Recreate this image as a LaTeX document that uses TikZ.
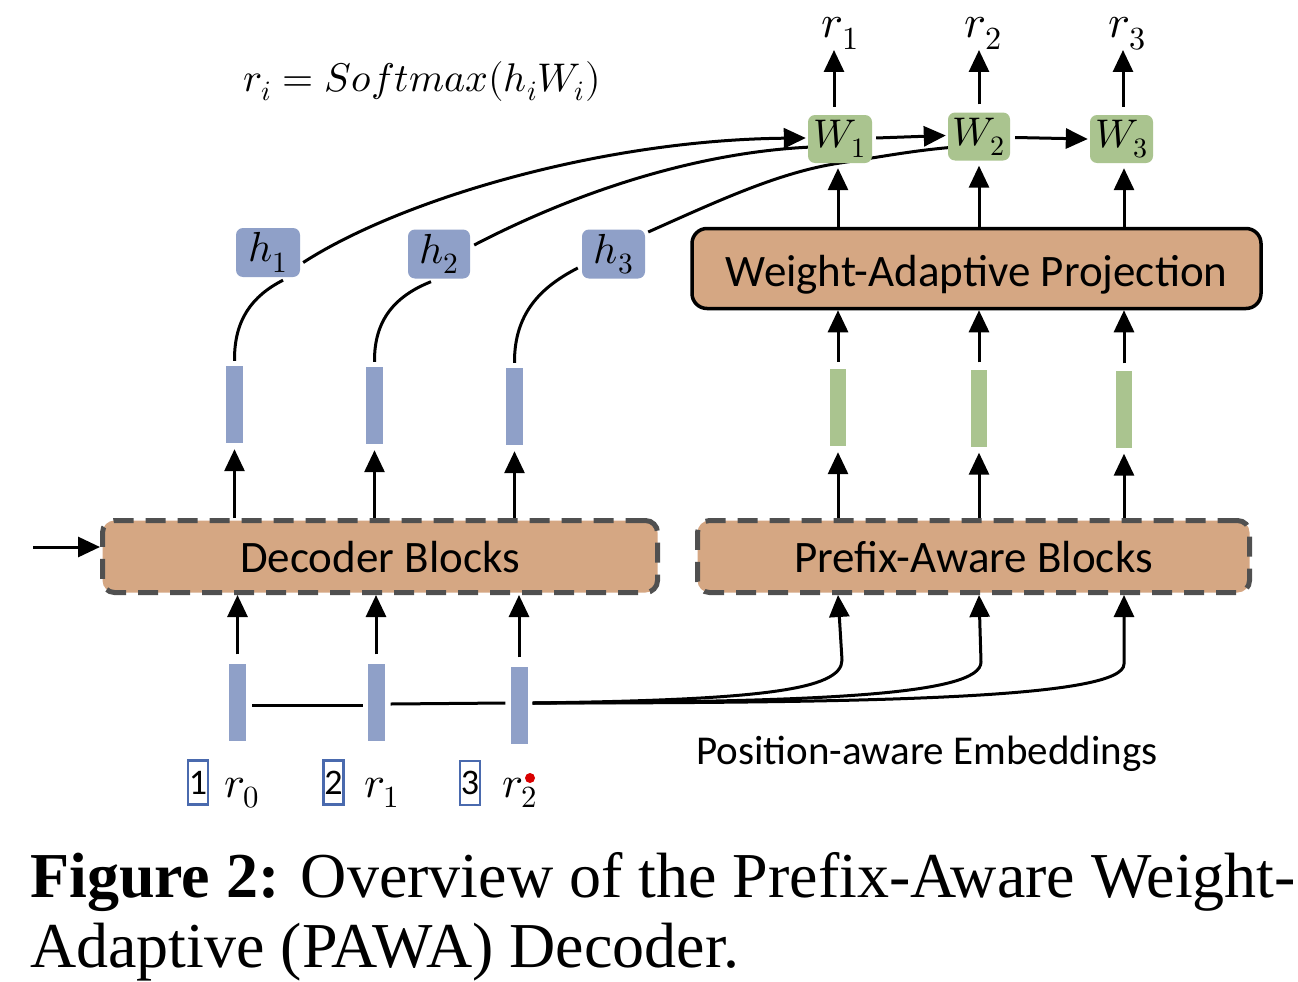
\documentclass[tikz,border=0pt]{standalone}
\usepackage{fontspec}
\usepackage{unicode-math}
\setmainfont{Carlito}
\setmathfont{Latin Modern Math}
\newfontfamily\capfont{Liberation Serif}
\usetikzlibrary{arrows.meta,backgrounds}
\definecolor{tanfill}{RGB}{213,167,131}
\definecolor{barblue}{RGB}{143,160,200}
\definecolor{bargreen}{RGB}{170,196,143}
\definecolor{numblue}{RGB}{74,106,174}
\definecolor{dashgray}{RGB}{80,80,80}
\tikzset{
  arr/.style={line width=3pt,-{Triangle[length=22pt,width=20pt]}},
  conn/.style={line width=3pt},
  dashbox/.style={draw=dashgray,line width=5pt,dash pattern=on 20pt off 12pt,fill=tanfill,rounded corners=12pt,inner sep=0pt},
  solidbox/.style={draw=black,line width=3.5pt,fill=tanfill,rounded corners=15pt,inner sep=0pt},
  hbox/.style={fill=barblue,rounded corners=7pt,minimum width=64pt,minimum height=49pt,inner sep=0pt,font=\fontsize{42}{46}\selectfont},
  wbox/.style={fill=bargreen,rounded corners=7pt,minimum width=64pt,minimum height=48pt,inner sep=0pt,font=\fontsize{40}{44}\selectfont},
  bbar/.style={fill=barblue,minimum width=17pt,minimum height=77pt,inner sep=0pt},
  gbar/.style={fill=bargreen,minimum width=16pt,minimum height=77pt,inner sep=0pt},
  numbox/.style={draw=numblue,line width=2.5pt,minimum width=20pt,minimum height=44pt,inner sep=0pt,font=\fontsize{36}{40}\selectfont},
  lbl/.style={anchor=base,inner sep=0pt,font=\fontsize{45}{50}\selectfont},
  mlbl/.style={anchor=base,inner sep=0pt,font=\fontsize{44}{48}\selectfont},
  toplbl/.style={anchor=base,inner sep=0pt,font=\fontsize{46}{52}\selectfont},
}
\begin{document}
\begin{tikzpicture}[x=1pt,y=-1pt]
\useasboundingbox (0,0) rectangle (1298,982);

% main boxes
\node[dashbox,minimum width=555pt,minimum height=72pt] (dec) at (380,556.5) {};
\node[dashbox,minimum width=552pt,minimum height=72pt] (pab) at (973.5,556.5) {};
\node[solidbox,minimum width=569pt,minimum height=80pt] (wap) at (976.5,268.5) {};
\node[lbl] (dect) at (380,572) {Decoder Blocks};
\node[lbl] (pabt) at (973.5,572) {Prefix-Aware Blocks};
\node[lbl] (wapt) at (976.5,286) {Weight-Adaptive Projection};

% input bars
\node[bbar] (b0) at (237.5,702) {};
\node[bbar] (b1) at (376,702) {};
\node[bbar] (b2) at (519,705) {};
% decoder output bars
\node[bbar] (o1) at (234.5,404.5) {};
\node[bbar] (o2) at (374.5,405.5) {};
\node[bbar] (o3) at (514.5,406.5) {};
% green bars
\node[gbar] (g1) at (838,407.5) {};
\node[gbar] (g2) at (979,408) {};
\node[gbar] (g3) at (1124,409) {};

% h boxes
\node[hbox] (h1) at (268,252.5) {$h_1$};
\node[hbox,minimum width=62pt] (h2) at (439,254) {$h_2$};
\node[hbox,minimum width=63pt] (h3) at (613.5,254) {$h_3$};

% W boxes
\node[wbox] (w1) at (840,139) {$W_1$};
\node[wbox,minimum width=62pt] (w2) at (979,136.5) {$W_2$};
\node[wbox,minimum width=63pt] (w3) at (1121.5,139) {$W_3$};

% top labels
\node[toplbl] (r1t) at (840,38) {$r_1$};
\node[toplbl] (r2t) at (983,38) {$r_2$};
\node[toplbl] (r3t) at (1127,38) {$r_3$};

% formula
\node[anchor=base,inner sep=0pt,font=\fontsize{40}{44}\selectfont] (form) at (422,91) {$r_i = Softmax(h_iW_i)$};

% bottom labels
\node[numbox] (n1) at (198,782.5) {1};
\node[numbox] (n2) at (333.5,782.5) {2};
\node[numbox] (n3) at (470,783) {3};
\node[mlbl] (r0b) at (242,797) {$r_0$};
\node[mlbl] (r1b) at (382,797) {$r_1$};
\node[mlbl] (r2b) at (520,797) {$r_2$};
\fill[red!85!black] (530,778) circle (5pt);

\node[anchor=base,inner sep=0pt,font=\fontsize{41}{46}\selectfont] (pae) at (927,764) {Position-aware Embeddings};

% caption
\node[anchor=base west,inner sep=0pt,font=\capfont\fontsize{64}{70}\selectfont] (cap1) at (30,897) {\textbf{Figure 2:} Overview of the Prefix-Aware Weight-};
\node[anchor=base west,inner sep=0pt,font=\capfont\fontsize{64}{70}\selectfont] (cap2) at (30,967) {Adaptive (PAWA) Decoder.};

% straight arrows
\coordinate (inp) at (33,547);
\draw[arr] (inp) -- (inp -| dec.west);
\foreach \b in {b0,b1,b2}{
  \draw[arr] ([yshift=9pt]\b.north) -- (\b.north |- dec.south);
}
\foreach \o in {o1,o2,o3}{
  \draw[arr] (\o.south |- dec.north) -- ([yshift=-6pt]\o.south);
}
\foreach \g in {g1,g2,g3}{
  \draw[arr] (\g.south |- pab.north) -- ([yshift=-6pt]\g.south);
  \draw[arr] ([yshift=7pt]\g.north) -- (\g.north |- wap.south);
}
\draw[arr] ([xshift=-2pt]w1.south |- wap.north) -- ([xshift=-2pt,yshift=-5pt]w1.south);
\draw[arr] (w2.south |- wap.north) -- ([yshift=-5pt]w2.south);
\draw[arr] ([xshift=2.5pt]w3.south |- wap.north) -- ([xshift=2.5pt,yshift=-5pt]w3.south);
\draw[arr] ([xshift=-6pt,yshift=8pt]w1.north) -- ([xshift=-6pt]w1.north |- 0,50);
\draw[arr] ([yshift=8pt]w2.north) -- (w2.north |- 0,50);
\draw[arr] ([xshift=1.5pt,yshift=8pt]w3.north) -- ([xshift=1.5pt]w3.north |- 0,50);
\draw[arr] ([xshift=4pt,yshift=1pt]w1.east) -- ([xshift=-2pt,yshift=1pt]w2.west);
\draw[arr] ([xshift=5pt,yshift=-1pt]w2.east) -- ([xshift=-2pt]w3.west);

% embedding chain
\draw[conn] ([xshift=6pt]b0.east |- 0,705) -- ([xshift=-4pt]b1.west |- 0,705);
\draw[conn] ([xshift=6pt]b1.east |- 0,704) -- ([xshift=-5pt]b2.west |- 0,703);
\coordinate (bs) at ([xshift=5pt]b2.east |- 0,703);
\draw[arr] (bs) .. controls (760,700) and (842,690) .. (842,660) -- (g1.south |- pab.south);
\draw[arr] (bs) .. controls (820,702) and (981,695) .. (981,662) -- (g2.south |- pab.south);
\draw[arr] (bs) .. controls (880,703) and (1124,698) .. (1124,664) -- (g3.south |- pab.south);

\begin{scope}[on background layer]
\fill[white] (0,0) rectangle (1298,982);
% curves bar -> h
\draw[conn] ([yshift=5pt]o1.north) .. controls (234,320) and (252,296) .. ([xshift=15pt,yshift=-3pt]h1.south);
\draw[conn] ([yshift=5pt]o2.north) .. controls (374,320) and (395,296) .. ([xshift=-8pt,yshift=-3pt]h2.south);
\draw[conn] ([yshift=5pt]o3.north) .. controls (514,310) and (545,285) .. ([xshift=-4pt,yshift=-14pt]h3.west);
% curves h -> W
\draw[conn,-{Triangle[length=22pt,width=20pt]}] ([xshift=3pt,yshift=-10pt]h1.east) .. controls (400,200) and (600,140) .. ([xshift=-2pt,yshift=1pt]w1.west);
\draw[conn] ([xshift=4pt,yshift=9pt]h2.east) .. controls (580,190) and (700,152) .. ([xshift=4pt,yshift=-8pt]w1.west);
\draw[conn] ([xshift=3pt,yshift=22pt]h3.east) .. controls (720,200) and (780,172) .. (840,163) .. controls (880,157) and (910,151) .. ([xshift=2pt,yshift=-11pt]w2.west);
\end{scope}
\end{tikzpicture}
\end{document}
